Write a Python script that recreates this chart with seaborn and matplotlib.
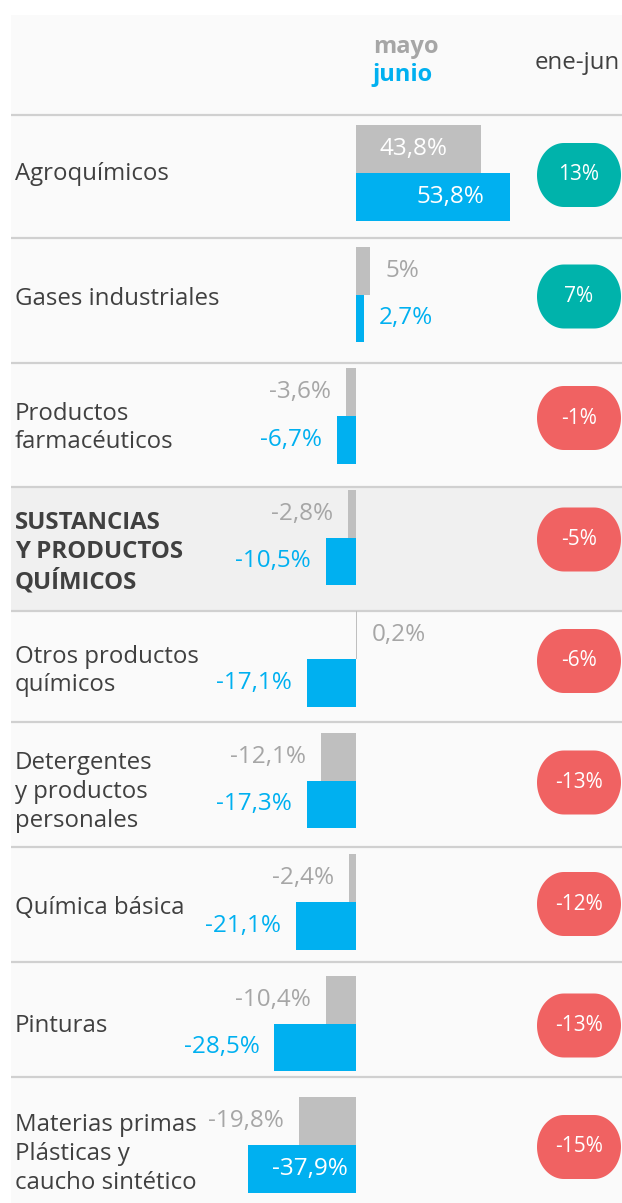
import numpy as np
import pandas as pd
import matplotlib
matplotlib.use("Agg")
import matplotlib.pyplot as plt
from matplotlib.patches import Rectangle, Polygon
import seaborn as sns

# ---------------- data ----------------
categorias = [
    "Agroquímicos",
    "Gases industriales",
    "Productos\nfarmacéuticos",
    "SUSTANCIAS\nY PRODUCTOS\nQUÍMICOS",
    "Otros productos\nquímicos",
    "Detergentes\ny productos\npersonales",
    "Química básica",
    "Pinturas",
    "Materias primas\nPlásticas y\ncaucho sintético",
]
mayo = [43.8, 5.0, -3.6, -2.8, 0.2, -12.1, -2.4, -10.4, -19.8]
junio = [53.8, 2.7, -6.7, -10.5, -17.1, -17.3, -21.1, -28.5, -37.9]
ene_jun = [13, 7, -1, -5, -6, -13, -12, -13, -15]
periodos = ["mayo", "junio"]
destacada = "SUSTANCIAS\nY PRODUCTOS\nQUÍMICOS"

# ---------------- style ----------------
sns.set_theme(style="white")
plt.rcParams["font.family"] = ["Open Sans", "DejaVu Sans"]

GRAY = "#bfbfbf"
BLUE = "#00b0f0"
GRAY_TXT = "#a6a6a6"
DARK = "#404040"
TEAL = "#00b3ab"
RED = "#f06262"

FS_LABEL = 17.3
FS_VAL = 17.5
FS_PILL = 15

W, H = 622, 1203
DPI = 100
fig = plt.figure(figsize=(W / DPI, H / DPI), dpi=DPI)
fig.patch.set_facecolor("white")

# background / layout axes in pixel coordinates
bg = fig.add_axes([0, 0, 1, 1], zorder=1)
bg.set_xlim(0, W)
bg.set_ylim(H, 0)
bg.axis("off")

PANEL_X = 11
bg.add_patch(Rectangle((PANEL_X, 15), W - PANEL_X, H - 15, facecolor="#fafafa", edgecolor="none"))

row_edges = [115, 238, 363, 487, 611, 722, 847, 962, 1077, 1203]
label_y = [174, 299, 428, 553, 671, 792, 908, 1026, 1154]

for i, cat in enumerate(categorias):
    if cat == destacada:
        bg.add_patch(Rectangle((PANEL_X, row_edges[i]), W - PANEL_X,
                               row_edges[i + 1] - row_edges[i],
                               facecolor="#f0f0f0", edgecolor="none"))
for y in row_edges[:-1]:
    bg.plot([PANEL_X, W], [y, y], color="#d0d0d0", lw=1.6, solid_capstyle="butt")

# header
bg.text(373, 47, "mayo", color=GRAY_TXT, fontsize=17, fontweight="bold", ha="left", va="center")
bg.text(372, 75, "junio", color=BLUE, fontsize=17, fontweight="bold", ha="left", va="center")
bg.text(577, 63, "ene-jun", color=DARK, fontsize=17.3, ha="center", va="center")

# category labels
for i, cat in enumerate(categorias):
    bold = cat == destacada
    bg.text(15, label_y[i], cat, color=DARK, fontsize=FS_LABEL,
            fontweight="bold" if bold else "normal",
            ha="left", va="center", linespacing=1.27)

# ---------------- bars ----------------
ax = fig.add_axes([0, 0, 1, 1], zorder=2)
ax.patch.set_alpha(0)

df = pd.DataFrame({
    "categoria": categorias * 2,
    "periodo": ["mayo"] * len(categorias) + ["junio"] * len(categorias),
    "valor": mayo + junio,
})
sns.barplot(data=df, y="categoria", x="valor", hue="periodo", hue_order=periodos,
            order=categorias, palette=[GRAY, BLUE], orient="h", width=0.79, gap=0,
            errorbar=None, legend=False, saturation=1, ax=ax,
            linewidth=0)

ZERO_PX = 356.0
PX_PER = 2.86
Y0_PX = 173.0
STEP_PX = 121.5
ax.set_xlim(-ZERO_PX / PX_PER, (W - ZERO_PX) / PX_PER)
ax.set_ylim((H - Y0_PX) / STEP_PX, -Y0_PX / STEP_PX)
ax.axis("off")

PT = 72.0 / DPI  # points per pixel


def fmt(v):
    s = f"{v:.1f}"
    if s.endswith(".0"):
        s = s[:-2]
    return s.replace(".", ",") + "%"


for k, (cont, vals) in enumerate(zip(ax.containers, [mayo, junio])):
    txt_col = GRAY_TXT if k == 0 else BLUE
    for bar, v in zip(cont, vals):
        yc = bar.get_y() + bar.get_height() / 2
        if abs(v) > 30:
            if v > 0:
                ax.annotate(fmt(v), xy=(v, yc), xytext=(-(34 if k == 0 else 25) * PT, 0),
                            textcoords="offset points",
                            ha="right", va="center", color="white", fontsize=FS_VAL)
            else:
                ax.annotate(fmt(v), xy=(0, yc), xytext=(-8 * PT, 0), textcoords="offset points",
                            ha="right", va="center", color="white", fontsize=FS_VAL)
        elif v >= 0:
            ax.annotate(fmt(v), xy=(v, yc), xytext=(15 * PT, 0), textcoords="offset points",
                        ha="left", va="center", color=txt_col, fontsize=FS_VAL)
        else:
            ax.annotate(fmt(v), xy=(v, yc), xytext=(-15 * PT, 0), textcoords="offset points",
                        ha="right", va="center", color=txt_col, fontsize=FS_VAL)

# ---------------- ene-jun pills ----------------
PILL_W, PILL_H = 84, 64
PILL_CX = 579
RX, RY = 27, 32


def pill_path(cx, cy):
    pts = []
    corners = [(cx + PILL_W / 2 - RX, cy - PILL_H / 2 + RY, -np.pi / 2, 0),
               (cx + PILL_W / 2 - RX, cy + PILL_H / 2 - RY, 0, np.pi / 2),
               (cx - PILL_W / 2 + RX, cy + PILL_H / 2 - RY, np.pi / 2, np.pi),
               (cx - PILL_W / 2 + RX, cy - PILL_H / 2 + RY, np.pi, 1.5 * np.pi)]
    for ccx, ccy, a0, a1 in corners:
        t = np.linspace(a0, a1, 30)
        pts.extend(zip(ccx + RX * np.cos(t), ccy + RY * np.sin(t)))
    return np.array(pts)


for i, v in enumerate(ene_jun):
    cy = Y0_PX + STEP_PX * i + 2
    col = TEAL if v >= 0 else RED
    bg.add_patch(Polygon(pill_path(PILL_CX, cy), closed=True, facecolor=col,
                         edgecolor="none", zorder=3))
    bg.text(PILL_CX, cy, f"{v}%", color="white", fontsize=FS_PILL, ha="center", va="center", zorder=4)

fig.savefig("out.png", dpi=DPI, facecolor="white")
